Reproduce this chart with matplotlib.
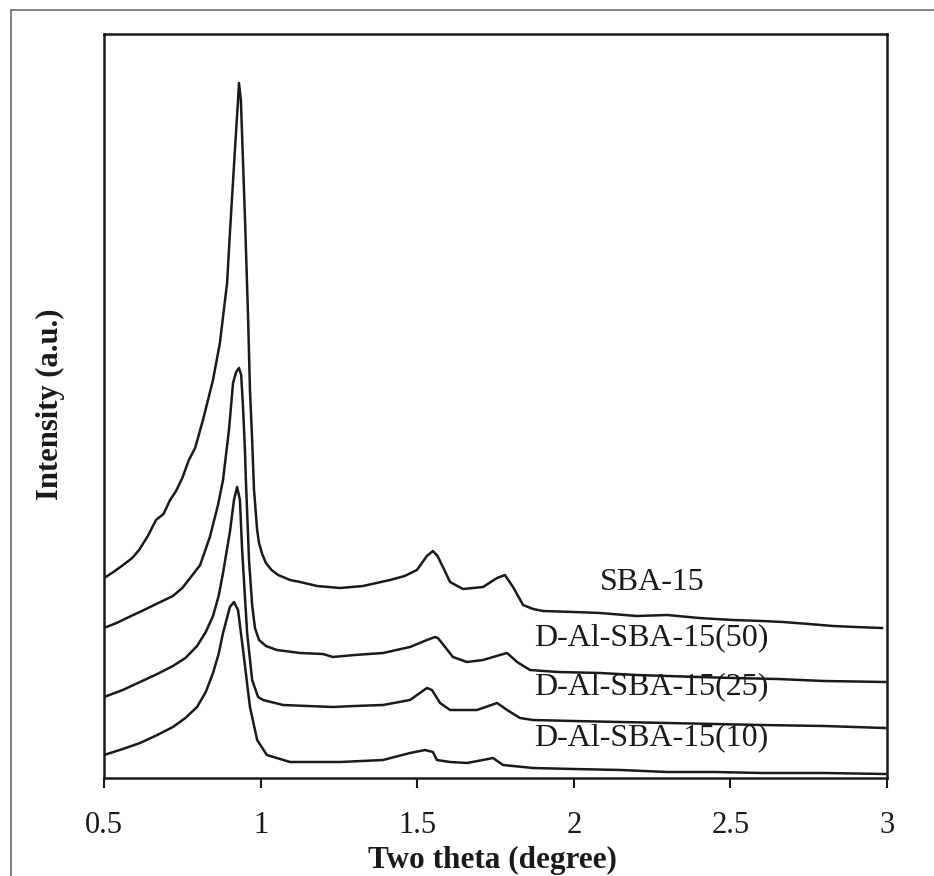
import matplotlib
matplotlib.use("Agg")
import matplotlib.pyplot as plt
from matplotlib.lines import Line2D

# Low-angle XRD patterns (intensity in arbitrary units, curves stacked)
sba15_theta = [0.500, 0.530, 0.561, 0.590, 0.612, 0.640, 0.666, 0.690, 0.711, 0.730,
               0.750, 0.771, 0.791, 0.816, 0.832, 0.848, 0.870, 0.893, 0.902, 0.918,
               0.928, 0.931, 0.937, 0.950, 0.960, 0.966, 0.973, 0.979, 0.989, 0.995,
               1.005, 1.017, 1.035, 1.056, 1.094, 1.126, 1.180, 1.254, 1.327, 1.413,
               1.460, 1.499, 1.531, 1.550, 1.565, 1.579, 1.605, 1.646, 1.710, 1.755,
               1.780, 1.806, 1.838, 1.870, 1.902, 2.000, 2.084, 2.200, 2.298, 2.400,
               2.508, 2.600, 2.668, 2.750, 2.828, 2.900, 2.984]
sba15_int = [200, 206, 213, 220, 228, 242, 258, 264, 278, 287,
             300, 318, 330, 358, 378, 398, 435, 495, 545, 628,
             678, 695, 678, 561, 461, 388, 338, 288, 248, 235,
             224, 215, 208, 203, 198, 196, 192, 190, 192, 198,
             202, 208, 222, 227, 222, 213, 196, 189, 191, 200,
             203, 191, 173, 169, 167, 166, 165, 162, 163, 160,
             158, 157, 156, 154, 152, 151, 150]

dal50_theta = [0.500, 0.540, 0.580, 0.634, 0.680, 0.720, 0.750, 0.775, 0.807, 0.838,
               0.864, 0.880, 0.899, 0.912, 0.922, 0.931, 0.938, 0.944, 0.950, 0.953,
               0.963, 0.973, 0.982, 0.995, 1.017, 1.052, 1.126, 1.199, 1.231, 1.300,
               1.391, 1.477, 1.531, 1.557, 1.566, 1.579, 1.614, 1.659, 1.710, 1.764,
               1.787, 1.819, 1.860, 1.950, 2.084, 2.200, 2.300, 2.400, 2.508, 2.650,
               2.800, 2.994]
dal50_int = [150, 155, 161, 169, 176, 182, 190, 200, 213, 241,
             273, 298, 348, 395, 406, 410, 403, 370, 328, 298,
             218, 173, 150, 138, 132, 128, 125, 124, 121, 123,
             125, 131, 138, 141, 140, 135, 121, 116, 118, 123,
             125, 116, 108, 106, 105, 103, 102, 101, 100, 99,
             97, 96]

dal25_theta = [0.500, 0.560, 0.615, 0.670, 0.720, 0.760, 0.797, 0.825, 0.848, 0.866,
               0.880, 0.902, 0.915, 0.925, 0.934, 0.941, 0.957, 0.973, 0.992, 1.008,
               1.072, 1.150, 1.231, 1.300, 1.391, 1.477, 1.531, 1.547, 1.573, 1.605,
               1.691, 1.755, 1.787, 1.828, 1.870, 2.000, 2.150, 2.298, 2.450, 2.600,
               2.800, 2.994]
dal25_int = [81, 88, 96, 104, 112, 120, 132, 146, 162, 182,
             205, 246, 278, 291, 278, 228, 145, 98, 81, 78,
             73, 72, 71, 72, 73, 78, 90, 88, 75, 68,
             68, 75, 68, 60, 58, 57, 56, 55, 54, 53,
             52, 50]

dal10_theta = [0.500, 0.560, 0.615, 0.670, 0.720, 0.760, 0.797, 0.825, 0.848, 0.866,
               0.880, 0.902, 0.915, 0.928, 0.944, 0.966, 0.989, 1.020, 1.094, 1.180,
               1.254, 1.391, 1.477, 1.525, 1.550, 1.563, 1.605, 1.659, 1.710, 1.742,
               1.774, 1.870, 2.000, 2.150, 2.298, 2.450, 2.600, 2.800, 2.994]
dal10_int = [23, 29, 35, 43, 51, 60, 71, 86, 105, 124,
             145, 171, 176, 168, 128, 71, 38, 23, 16, 16,
             16, 18, 25, 28, 26, 18, 16, 15, 18, 20,
             13, 10, 9, 8, 6, 6, 5, 5, 4]

sample_names = ["SBA-15", "D-Al-SBA-15(50)", "D-Al-SBA-15(25)", "D-Al-SBA-15(10)"]
xticks = [0.5, 1, 1.5, 2, 2.5, 3]
xtick_labels = ["0.5", "1", "1.5", "2", "2.5", "3"]

plt.rcParams["font.family"] = ["Liberation Serif", "DejaVu Serif"]

W, H = 934, 876
fig = plt.figure(figsize=(W / 100, H / 100), dpi=100)
fig.patch.set_facecolor("white")

# axes box in pixel terms
left, right, top, bottom = 104, 887, 34, 778
ax = fig.add_axes([left / W, 1 - bottom / H, (right - left) / W, (bottom - top) / H])

ink = "#1a1a1a"
for th, it in [(sba15_theta, sba15_int), (dal50_theta, dal50_int),
               (dal25_theta, dal25_int), (dal10_theta, dal10_int)]:
    ax.plot(th, it, color=ink, lw=1.8, solid_joinstyle="round")

ax.set_xlim(0.5, 3)
ax.set_ylim(0, 744)
ax.set_xticks(xticks)
ax.set_xticklabels(xtick_labels)
ax.set_yticks([])
ax.tick_params(axis="x", direction="out", length=7, width=1.5, pad=17,
               labelsize=22, colors=ink)
for sp in ax.spines.values():
    sp.set_linewidth(1.8)
    sp.set_color(ink)

# sample labels
ax.text(2.25, 195, sample_names[0], fontsize=23, ha="center", va="center", color=ink)
ax.text(1.872, 140, sample_names[1], fontsize=23, ha="left", va="center", color=ink)
ax.text(1.872, 91, sample_names[2], fontsize=23, ha="left", va="center", color=ink)
ax.text(1.872, 40, sample_names[3], fontsize=23, ha="left", va="center", color=ink)

fig.text(492 / W, 1 - 860 / H, "Two theta (degree)", fontsize=22.5, fontweight="bold",
         ha="center", va="center", color=ink)
fig.text(50 / W, 1 - 404 / H, "Intensity (a.u.)", fontsize=22, fontweight="bold",
         rotation=90, ha="center", va="center", color=ink)

# outer frame of the figure panel
fig.add_artist(Line2D([11 / W, 1.0], [1 - 10 / H, 1 - 10 / H], color="#777777", lw=1.3))
fig.add_artist(Line2D([11 / W, 11 / W], [1 - 10 / H, 0.0], color="#777777", lw=1.3))

fig.savefig("out.png", dpi=100, facecolor="white")
